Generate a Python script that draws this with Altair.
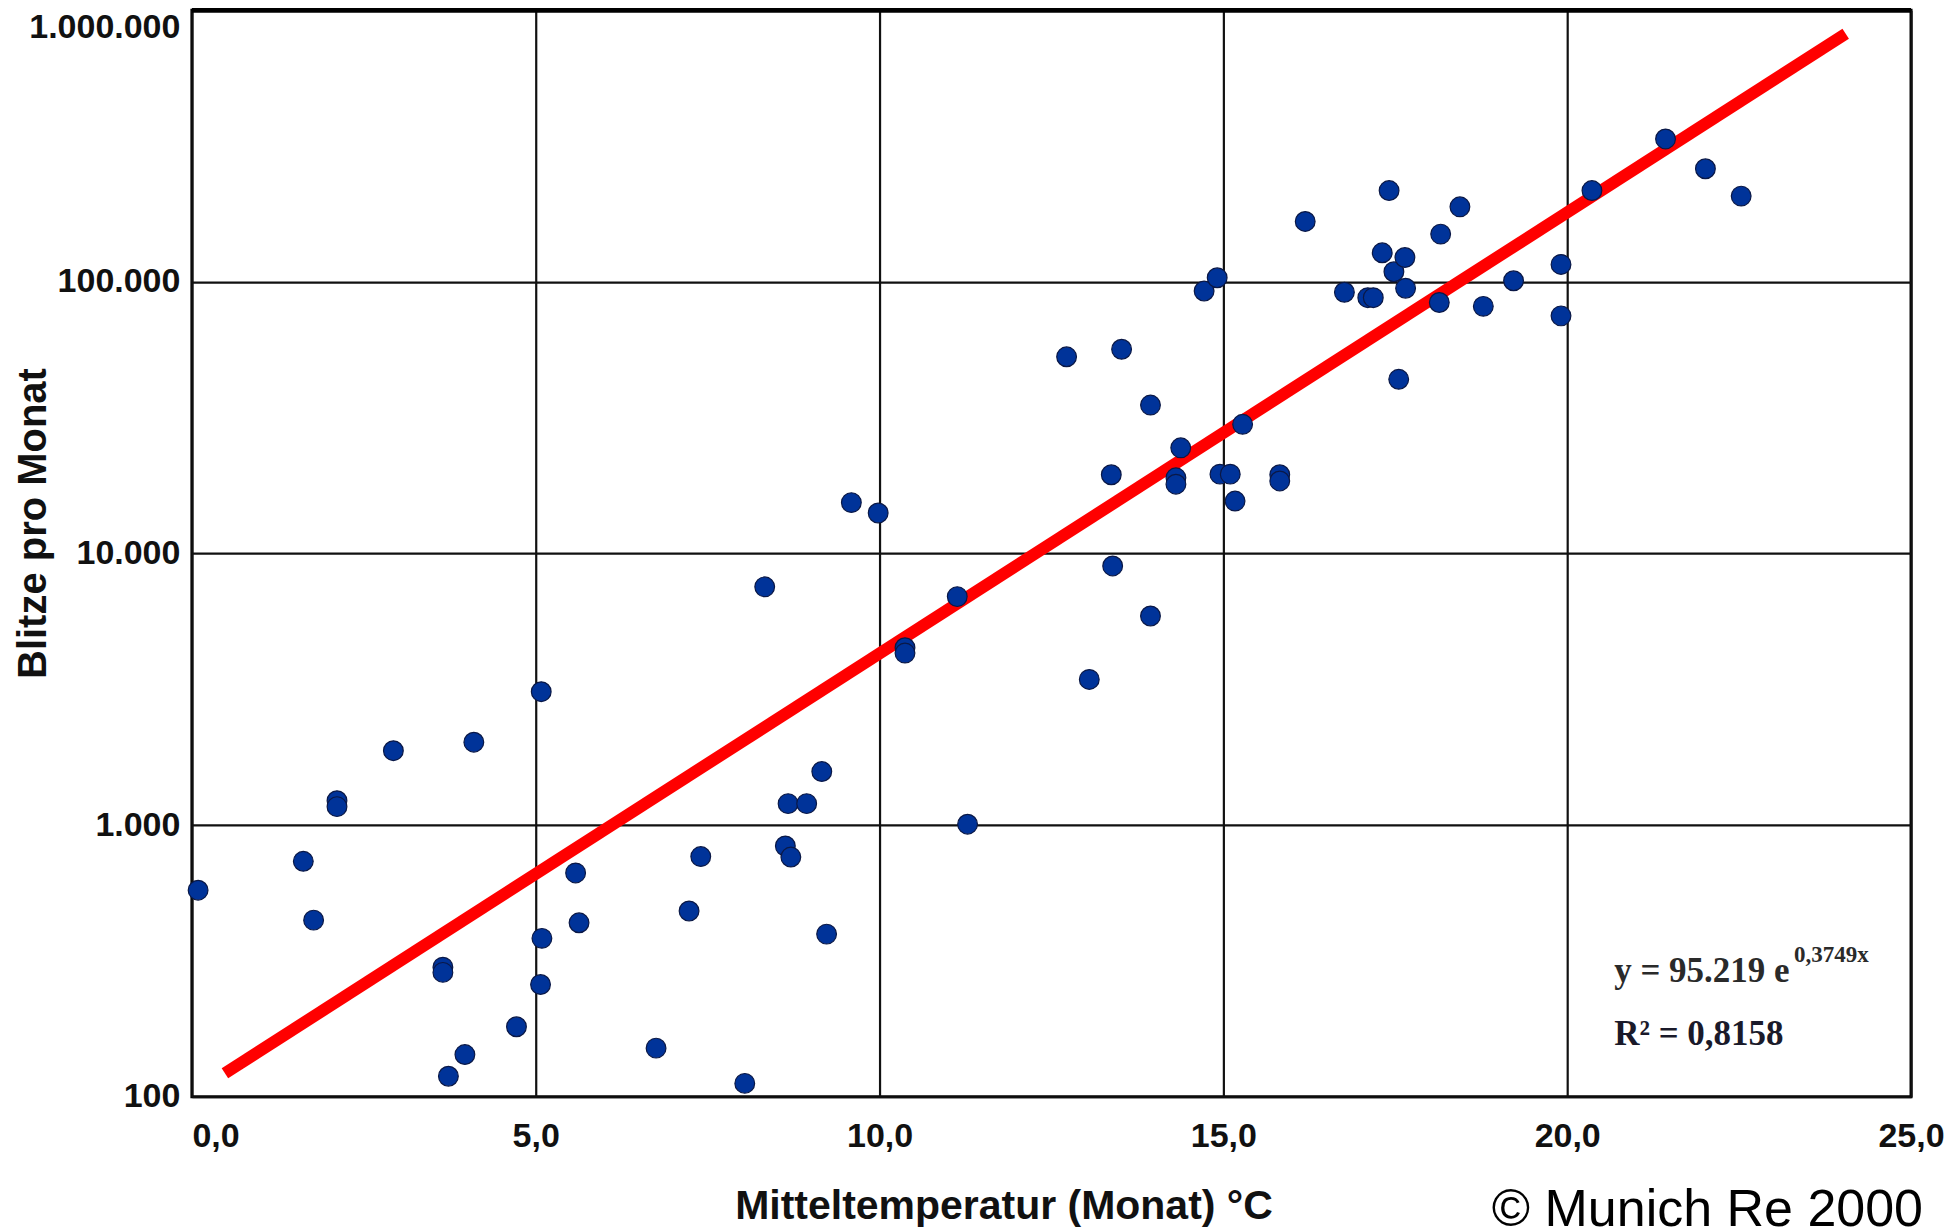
import altair as alt
import pandas as pd

# ---- data ----
temp = [0.09, 1.62, 1.77, 2.11, 2.11, 2.93, 3.65, 3.65, 3.73, 3.97,
        4.10, 4.72, 5.08, 5.09, 5.07, 5.58, 5.63, 6.75, 7.23, 7.40,
        8.04, 8.33, 8.63, 8.71, 8.67, 8.94, 9.16, 9.23, 9.59, 9.98,
        10.37, 10.37, 11.13, 11.28, 12.72, 13.05, 13.37, 13.39, 13.52, 13.94,
        13.94, 14.31, 14.31, 14.38, 14.72, 14.91, 14.95, 15.10, 15.17, 15.28,
        15.82, 15.82, 16.19, 16.76, 17.10, 17.18, 17.31, 17.41, 17.48, 17.55,
        17.64, 17.65, 18.14, 18.16, 18.44, 18.78, 19.22, 19.91, 19.91, 20.36,
        21.43, 22.01, 22.53]
blitze = [576, 736, 447, 1230, 1170, 1880, 300, 287, 119, 143,
          2020, 181, 3100, 383, 259, 667, 437, 151, 483, 766,
          112, 7540, 838, 763, 1200, 1200, 1575, 397, 15400, 14100,
          4500, 4300, 6940, 1008, 53000, 3440, 19500, 9000, 56500, 35200,
          5890, 19000, 18000, 24500, 92600, 103600, 19600, 19600, 15600, 29900,
          19500, 18500, 167000, 91600, 87500, 87500, 128000, 217000, 109000, 43800,
          123000, 94800, 84000, 150000, 189000, 81300, 101000, 116000, 75000, 217000,
          336000, 261000, 207000]

fit_temp = [0.48, 24.05]
fit_blitze = [122, 820000]

x_ticks = [0, 5, 10, 15, 20, 25]
y_ticks = [100, 1000, 10000, 100000, 1000000]

eq_main = ["y = 95.219 e"]
eq_exp = ["0,3749x"]
eq_r2 = ["R² = 0,8158"]
copyright_txt = ["© Munich Re 2000"]

pts = pd.DataFrame({"temp": temp, "blitze": blitze})
fit = pd.DataFrame({"temp": fit_temp, "blitze": fit_blitze})

SANS = "Liberation Sans"
SERIF = "Liberation Serif"

xs = alt.Scale(domain=[0, 25], nice=False, zero=False)
ys = alt.Scale(type="log", domain=[100, 1000000], nice=False)

x_axis = alt.Axis(
    values=x_ticks,
    title="Mitteltemperatur (Monat) °C",
    labelExpr="replace(format(datum.value, '.1f'), '.', ',')",
    labelFont=SANS, labelFontSize=34, labelFontWeight="bold", labelColor="#111111",
    labelPadding=23, labelFlush=False, labelOverlap=False,
    labelAlign={"condition": {"test": "datum.value == 0", "value": "left"}, "value": "center"},
    labelBaseline="top",
    ticks=False, domain=False,
    grid=True, gridColor="#111111", gridWidth=2.2,
    titleFont=SANS, titleFontSize=41, titleFontWeight="bold", titleColor="#111111",
    titleX=812, titleY=122, titleBaseline="alphabetic", titleAlign="center",
)

y_axis = alt.Axis(
    values=y_ticks,
    title="Blitze pro Monat",
    labelExpr="replace(format(datum.value, ','), regexp(',', 'g'), '.')",
    labelFont=SANS, labelFontSize=34, labelFontWeight="bold", labelColor="#111111",
    labelPadding=12, labelOverlap=False,
    labelBaseline={"condition": {"test": "datum.value >= 1000000", "value": "top"}, "value": "middle"},
    ticks=False, domain=False,
    grid=True, gridColor="#111111", gridWidth=2.2,
    titleFont=SANS, titleFontSize=40, titleFontWeight="bold", titleColor="#111111",
    titleAngle=270, titleX=-146, titleY=513, titleBaseline="alphabetic", titleAlign="center",
)

fit_line = alt.Chart(fit).mark_line(color="#ff0000", strokeWidth=12, strokeCap="butt").encode(
    x=alt.X("temp:Q", scale=xs, axis=x_axis),
    y=alt.Y("blitze:Q", scale=ys, axis=y_axis),
)

points = alt.Chart(pts).mark_circle(
    size=390, color="#003399", opacity=1, stroke="#0a1846", strokeWidth=1.2
).encode(
    x=alt.X("temp:Q", scale=xs),
    y=alt.Y("blitze:Q", scale=ys),
)

top_rule = alt.Chart(pd.DataFrame({"v": [1]})).mark_rule(color="black", strokeWidth=5).encode(
    y=alt.value(0)
)

eq1 = alt.Chart(pd.DataFrame({"t": eq_main})).mark_text(
    font=SERIF, fontSize=35, fontWeight="bold", color="#2a2a2a", align="left", baseline="alphabetic"
).encode(x=alt.value(1423), y=alt.value(972), text="t:N")

eq2 = alt.Chart(pd.DataFrame({"t": eq_exp})).mark_text(
    font=SERIF, fontSize=23, fontWeight="bold", color="#2a2a2a", align="left", baseline="alphabetic"
).encode(x=alt.value(1603), y=alt.value(952), text="t:N")

eq3 = alt.Chart(pd.DataFrame({"t": eq_r2})).mark_text(
    font=SERIF, fontSize=35, fontWeight="bold", color="#1a1a2a", align="left", baseline="alphabetic"
).encode(x=alt.value(1423), y=alt.value(1035), text="t:N")

copy = alt.Chart(pd.DataFrame({"t": copyright_txt})).mark_text(
    font=SANS, fontSize=52, fontWeight="normal", color="#000000", align="right", baseline="alphabetic"
).encode(x=alt.value(1732), y=alt.value(1216), text="t:N")

chart = alt.layer(fit_line, points, top_rule, eq1, eq2, eq3, copy).properties(
    width=1720,
    height=1087,
    autosize=alt.AutoSizeParams(type="none"),
    padding={"left": 184, "top": 2, "right": 40, "bottom": 140},
    background="white",
).configure_view(stroke="black", strokeWidth=3)

chart.save("out.html", embed_options={"renderer": "svg", "actions": False})
